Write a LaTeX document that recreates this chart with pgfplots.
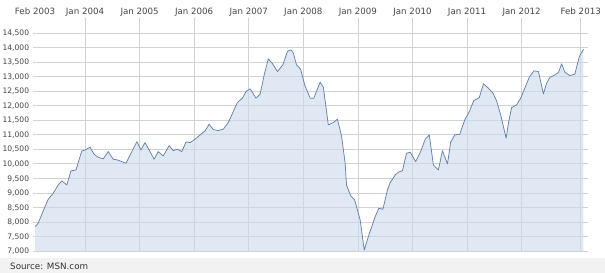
\documentclass[border=0pt]{standalone}
\usepackage{pgfplots}
\pgfplotsset{compat=1.18}
\usepackage{pgfplotstable}
\usepackage{fontspec}
\setmainfont{DejaVu Sans}
\definecolor{gridc}{RGB}{210,210,210}
\definecolor{fillc}{RGB}{202,217,235}
\definecolor{linec}{RGB}{100,130,170}
\definecolor{labc}{RGB}{70,70,70}
\definecolor{bandc}{RGB}{242,242,242}
\pgfplotstableread{
m v
0 7836
0.7 7953
2.2 8525
2.9 8778
4.0 8985
5.1 9271
5.9 9409
7.0 9271
7.9 9753
9.0 9787
10.3 10441
11.1 10475
12.1 10568
13.0 10327
13.9 10224
15.0 10166
16.1 10417
17.2 10155
18.1 10131
18.7 10097
20.0 10017
21.3 10417
22.4 10761
23.3 10475
24.2 10727
25.3 10417
26.2 10155
27.1 10417
28.2 10269
29.5 10623
30.4 10451
31.3 10499
32.3 10417
33.2 10751
34.1 10727
35.2 10843
36.3 10991
37.4 11129
38.3 11360
39.2 11175
40.3 11140
41.4 11188
42.5 11415
43.6 11793
44.5 12103
45.6 12254
46.4 12482
47.3 12575
47.9 12427
48.6 12254
49.5 12392
50.4 13056
51.3 13607
52.3 13424
53.3 13170
54.5 13400
55.5 13858
56.3 13916
56.8 13803
57.5 13400
58.4 13252
59.3 12712
60.5 12254
61.3 12254
62.7 12804
63.4 12633
64.5 11336
65.6 11415
66.5 11532
67.4 10957
68.2 10017
68.5 9271
69.4 8903
70.3 8755
71.5 8067
72.4 7030
73.3 7492
74.8 8180
75.6 8469
76.5 8435
77.5 9099
78.1 9350
79.2 9615
79.9 9708
80.8 9763
81.7 10362
82.5 10396
83.7 10073
84.8 10417
85.8 10843
86.7 10991
87.6 9959
88.7 9787
89.6 10451
90.7 9994
91.4 10740
92.3 10991
93.4 11016
94.5 11508
95.5 11793
96.5 12172
97.7 12275
98.6 12750
99.7 12598
100.7 12427
101.5 12162
102.4 11680
103.0 11277
103.6 10878
104.1 11394
104.8 11931
105.9 12024
106.8 12254
107.7 12598
108.7 12977
109.7 13194
110.7 13170
111.8 12402
112.5 12771
113.2 12963
114.3 13056
115.1 13135
115.8 13435
116.5 13149
117.6 13032
118.7 13080
119.7 13686
120.6 13940
}\dowdata
\begin{document}
\begin{tikzpicture}
\path[use as bounding box, fill=white] (0,0) rectangle (605bp,273bp);
\fill[bandc] (0,0) rectangle (605bp,15.3bp);
\node[anchor=west, inner sep=0pt, text=black!80, font=\fontsize{8.8}{10}\selectfont] at (10bp,6.3bp) {Source: MSN.com};
\begin{axis}[
  at={(33bp,22bp)}, anchor=south west,
  scale only axis, width=555bp, height=232.7bp,
  xmin=-0.44, xmax=121.6, ymin=7000, ymax=15000,
  axis line style={draw=none},
  major tick length=0pt, tick style={draw=none},
  ytick={7000,7500,...,14500},
  scaled y ticks=false,
  /pgf/number format/assume math mode=true,
  yticklabel style={/pgf/number format/1000 sep={,}, anchor=base east, inner sep=0pt, xshift=-3.7bp, yshift=-2.8bp, text=labc, font=\fontsize{7.6}{9}\selectfont},
  xtick={11,23,35,47,59,71,83,95,107,120},
  xticklabels={Jan 2004,Jan 2005,Jan 2006,Jan 2007,Jan 2008,Jan 2009,Jan 2010,Jan 2011,Jan 2012,Feb 2013},
  extra x ticks={0},
  extra x tick labels={Feb 2003},
  extra x tick style={grid=none},
  xticklabel pos=top,
  xticklabel style={anchor=base, inner sep=0pt, yshift=4.3bp, text=labc, font=\fontsize{8.7}{10}\selectfont},
  grid=major,
  grid style={gridc, line width=0.6pt},
]
\addplot[draw=none, fill=fillc, fill opacity=0.6] table[x=m,y=v] {\dowdata} \closedcycle;
\addplot[linec, line width=0.75pt, line join=round] table[x=m,y=v] {\dowdata};
\end{axis}
\end{tikzpicture}
\end{document}
